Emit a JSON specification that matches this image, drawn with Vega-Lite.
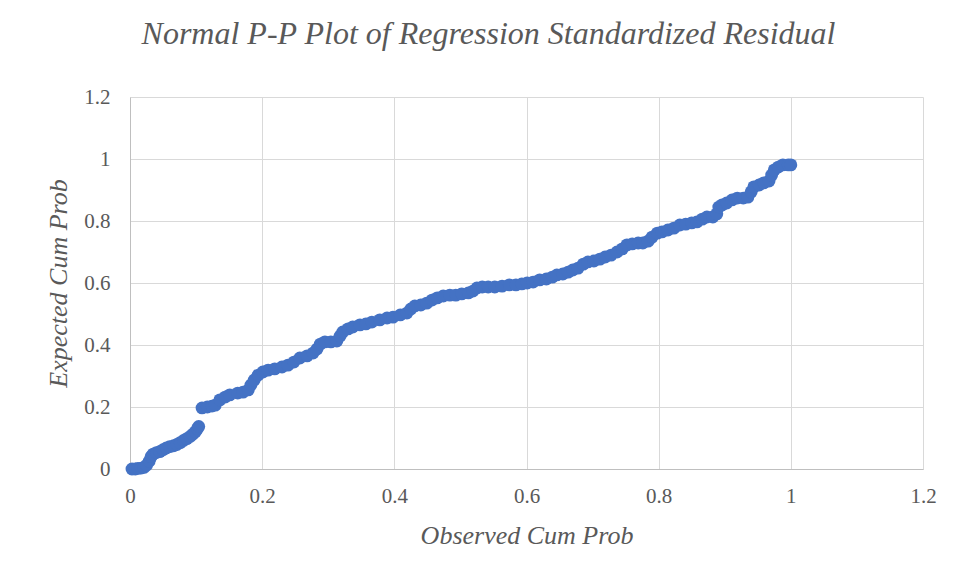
{
  "$schema": "https://vega.github.io/schema/vega-lite/v6.json",
  "width": 793,
  "height": 372,
  "autosize": {"type": "none"},
  "padding": {"left": 130, "top": 97, "right": 31, "bottom": 107},
  "background": "white",
  "title": {
    "text": "Normal P-P Plot of Regression  Standardized Residual",
    "font": "Liberation Serif",
    "fontStyle": "italic",
    "fontWeight": "normal",
    "fontSize": 32,
    "color": "#595959",
    "anchor": "middle",
    "dx": -38,
    "offset": 35
  },
  "config": {
    "view": {"stroke": null},
    "axis": {
      "labelFont": "Liberation Serif",
      "labelFontSize": 21,
      "labelColor": "#595959",
      "labelFlush": false,
      "titleFont": "Liberation Serif",
      "titleFontStyle": "italic",
      "titleFontWeight": "normal",
      "titleFontSize": 26,
      "titleColor": "#595959",
      "gridColor": "#d9d9d9",
      "gridWidth": 1,
      "domainColor": "#bfbfbf",
      "ticks": false,
      "tickSize": 0,
      "format": "~g"
    }
  },
  "data": {
    "values": [
      {"x": 0.003, "y": 0}, {"x": 0.008, "y": 0}, {"x": 0.012, "y": 0.002}, {"x": 0.017, "y": 0.003},
      {"x": 0.021, "y": 0.005}, {"x": 0.025, "y": 0.012}, {"x": 0.029, "y": 0.025}, {"x": 0.032, "y": 0.04},
      {"x": 0.035, "y": 0.048}, {"x": 0.04, "y": 0.053}, {"x": 0.045, "y": 0.056}, {"x": 0.05, "y": 0.062},
      {"x": 0.055, "y": 0.068}, {"x": 0.06, "y": 0.072}, {"x": 0.066, "y": 0.075}, {"x": 0.071, "y": 0.079},
      {"x": 0.076, "y": 0.085}, {"x": 0.081, "y": 0.092}, {"x": 0.086, "y": 0.098}, {"x": 0.091, "y": 0.105},
      {"x": 0.095, "y": 0.112}, {"x": 0.099, "y": 0.12}, {"x": 0.102, "y": 0.13}, {"x": 0.104, "y": 0.137},
      {"x": 0.109, "y": 0.197}, {"x": 0.117, "y": 0.2}, {"x": 0.124, "y": 0.203}, {"x": 0.129, "y": 0.206},
      {"x": 0.136, "y": 0.223}, {"x": 0.144, "y": 0.232}, {"x": 0.151, "y": 0.239}, {"x": 0.163, "y": 0.245},
      {"x": 0.171, "y": 0.248}, {"x": 0.179, "y": 0.255}, {"x": 0.183, "y": 0.271}, {"x": 0.188, "y": 0.287},
      {"x": 0.194, "y": 0.303}, {"x": 0.201, "y": 0.313}, {"x": 0.209, "y": 0.319}, {"x": 0.219, "y": 0.323},
      {"x": 0.23, "y": 0.329}, {"x": 0.239, "y": 0.335}, {"x": 0.248, "y": 0.345}, {"x": 0.257, "y": 0.358},
      {"x": 0.268, "y": 0.365}, {"x": 0.277, "y": 0.374}, {"x": 0.283, "y": 0.387}, {"x": 0.288, "y": 0.403},
      {"x": 0.295, "y": 0.41}, {"x": 0.304, "y": 0.41}, {"x": 0.313, "y": 0.413}, {"x": 0.318, "y": 0.429},
      {"x": 0.322, "y": 0.442}, {"x": 0.33, "y": 0.452}, {"x": 0.337, "y": 0.458}, {"x": 0.348, "y": 0.465},
      {"x": 0.357, "y": 0.468}, {"x": 0.366, "y": 0.474}, {"x": 0.378, "y": 0.481}, {"x": 0.389, "y": 0.487},
      {"x": 0.398, "y": 0.49}, {"x": 0.409, "y": 0.497}, {"x": 0.419, "y": 0.503}, {"x": 0.425, "y": 0.516},
      {"x": 0.431, "y": 0.526}, {"x": 0.44, "y": 0.529}, {"x": 0.449, "y": 0.535}, {"x": 0.457, "y": 0.545},
      {"x": 0.465, "y": 0.552}, {"x": 0.474, "y": 0.558}, {"x": 0.484, "y": 0.561}, {"x": 0.493, "y": 0.561},
      {"x": 0.502, "y": 0.565}, {"x": 0.512, "y": 0.568}, {"x": 0.519, "y": 0.574}, {"x": 0.525, "y": 0.584},
      {"x": 0.533, "y": 0.587}, {"x": 0.542, "y": 0.587}, {"x": 0.552, "y": 0.587}, {"x": 0.563, "y": 0.59},
      {"x": 0.574, "y": 0.594}, {"x": 0.584, "y": 0.594}, {"x": 0.593, "y": 0.597}, {"x": 0.601, "y": 0.6},
      {"x": 0.61, "y": 0.603}, {"x": 0.62, "y": 0.61}, {"x": 0.63, "y": 0.613}, {"x": 0.639, "y": 0.619},
      {"x": 0.646, "y": 0.626}, {"x": 0.655, "y": 0.629}, {"x": 0.663, "y": 0.635}, {"x": 0.67, "y": 0.642},
      {"x": 0.678, "y": 0.648}, {"x": 0.686, "y": 0.661}, {"x": 0.693, "y": 0.668}, {"x": 0.702, "y": 0.671},
      {"x": 0.711, "y": 0.677}, {"x": 0.719, "y": 0.684}, {"x": 0.728, "y": 0.69}, {"x": 0.737, "y": 0.7},
      {"x": 0.745, "y": 0.71}, {"x": 0.752, "y": 0.723}, {"x": 0.76, "y": 0.726}, {"x": 0.769, "y": 0.729},
      {"x": 0.776, "y": 0.729}, {"x": 0.784, "y": 0.735}, {"x": 0.79, "y": 0.748}, {"x": 0.798, "y": 0.761},
      {"x": 0.805, "y": 0.765}, {"x": 0.814, "y": 0.771}, {"x": 0.823, "y": 0.777}, {"x": 0.832, "y": 0.787},
      {"x": 0.841, "y": 0.79}, {"x": 0.85, "y": 0.794}, {"x": 0.858, "y": 0.797}, {"x": 0.866, "y": 0.806},
      {"x": 0.873, "y": 0.813}, {"x": 0.882, "y": 0.813}, {"x": 0.888, "y": 0.823}, {"x": 0.891, "y": 0.845},
      {"x": 0.896, "y": 0.852}, {"x": 0.903, "y": 0.858}, {"x": 0.911, "y": 0.868}, {"x": 0.919, "y": 0.874},
      {"x": 0.928, "y": 0.874}, {"x": 0.935, "y": 0.877}, {"x": 0.94, "y": 0.894}, {"x": 0.944, "y": 0.91},
      {"x": 0.952, "y": 0.916}, {"x": 0.959, "y": 0.923}, {"x": 0.967, "y": 0.929}, {"x": 0.971, "y": 0.948},
      {"x": 0.975, "y": 0.965}, {"x": 0.981, "y": 0.974}, {"x": 0.988, "y": 0.981}, {"x": 0.996, "y": 0.981},
      {"x": 1.0, "y": 0.981}
    ]
  },
  "mark": {"type": "point", "shape": "circle", "filled": true, "size": 165, "color": "#4472C4", "opacity": 1},
  "encoding": {
    "x": {
      "field": "x",
      "type": "quantitative",
      "scale": {"domain": [0, 1.2], "nice": false, "zero": true},
      "axis": {
        "title": "Observed Cum Prob",
        "values": [0, 0.2, 0.4, 0.6, 0.8, 1, 1.2],
        "labelPadding": 16,
        "titlePadding": 16,
        "domain": true
      }
    },
    "y": {
      "field": "y",
      "type": "quantitative",
      "scale": {"domain": [0, 1.2], "nice": false},
      "axis": {
        "title": "Expected Cum Prob",
        "values": [0, 0.2, 0.4, 0.6, 0.8, 1, 1.2],
        "labelPadding": 20,
        "titlePadding": 12,
        "domain": true
      }
    }
  }
}
